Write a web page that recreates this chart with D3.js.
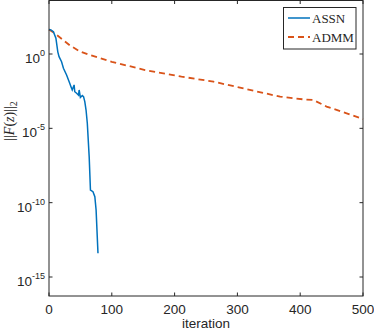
<!DOCTYPE html>
<html>
<head>
<meta charset="utf-8">
<script src="https://cdn.jsdelivr.net/npm/d3@7"></script>
<style>
  body { margin: 0; background: #fff; }
  svg { display: block; }
  text { fill: #262626; }
</style>
</head>
<body>
<div id="chart"></div>
<script>
// ASSN residuals
var assnIter = [0, 3, 7, 11, 14, 16, 20, 23, 28, 33, 35, 37, 40, 41, 44, 47, 48, 50, 53, 55, 57, 59, 61, 64, 66, 68, 70, 73, 75, 78];
var assnRes = [45, 42, 32, 11.5, 1.4, 0.66, 0.3, 0.11, 0.039, 0.0107, 0.0063, 0.0038, 0.0083, 0.0029, 0.0023, 0.0017, 0.0038, 0.0012, 0.0016, 0.00135, 6.2e-4, 1.7e-4, 2.2e-5, 1.2e-7, 7e-10, 6.3e-10, 5.5e-10, 2.5e-10, 3.2e-11, 4e-14];

// ADMM residuals
var admmIter = [0, 10, 33, 49, 65, 100, 153, 211, 262, 315, 368, 405, 421, 442, 474, 500];
var admmRes = [45, 23, 3.9, 1.5, 0.85, 0.3, 0.083, 0.03, 0.0138, 0.0043, 0.00135, 8.9e-4, 8.1e-4, 2.9e-4, 1.02e-4, 4.2e-5];

var xTicks = [0, 100, 200, 300, 400, 500];
var yTickExp = [0, -5, -10, -15];
var seriesNames = ["ASSN", "ADMM"];
var seriesColors = ["#0072BD", "#D95319"];

var width = 374, height = 332;
var mLeft = 49, mRight = 363, mTop = 0.5, mBottom = 296;

var svg = d3.select("#chart").append("svg")
            .attr("width", width)
            .attr("height", height);

var x = d3.scaleLinear()
          .domain([0, 500])
          .range([mLeft, mRight]);

var y = d3.scaleLog()
          .domain([Math.pow(10, -16.278), Math.pow(10, 3.599)])
          .range([mBottom, mTop]);

var line = d3.line()
             .x(function(d){ return x(d[0]); })
             .y(function(d){ return y(d[1]); });

var assn = assnIter.map(function(t, i){ return [t, assnRes[i]]; });
var admm = admmIter.map(function(t, i){ return [t, admmRes[i]]; });

svg.append("path")
   .attr("d", line(admm))
   .attr("fill", "none")
   .attr("stroke", seriesColors[1])
   .attr("stroke-width", 1.8)
   .attr("stroke-dasharray", "6,4");

svg.append("path")
   .attr("d", line(assn))
   .attr("fill", "none")
   .attr("stroke", seriesColors[0])
   .attr("stroke-width", 1.5);

// box
svg.append("rect")
   .attr("x", mLeft).attr("y", mTop)
   .attr("width", mRight - mLeft).attr("height", mBottom - mTop)
   .attr("fill", "none")
   .attr("stroke", "#262626")
   .attr("stroke-width", 1);

// x ticks (inside, bottom and top)
xTicks.forEach(function(t){
  var px = x(t);
  svg.append("line").attr("x1", px).attr("x2", px).attr("y1", mBottom).attr("y2", mBottom - 3.5)
     .attr("stroke", "#262626");
  svg.append("line").attr("x1", px).attr("x2", px).attr("y1", mTop).attr("y2", mTop + 3.5)
     .attr("stroke", "#262626");
  svg.append("text")
     .attr("x", px).attr("y", 314)
     .attr("text-anchor", "middle")
     .style("font-family", "Liberation Sans, Arial, sans-serif")
     .style("font-size", "13.5px")
     .text(t);
});

// y ticks
yTickExp.forEach(function(e){
  var py = y(Math.pow(10, e));
  svg.append("line").attr("x1", mLeft).attr("x2", mLeft + 3.5).attr("y1", py).attr("y2", py)
     .attr("stroke", "#262626");
  svg.append("line").attr("x1", mRight).attr("x2", mRight - 3.5).attr("y1", py).attr("y2", py)
     .attr("stroke", "#262626");
  var t = svg.append("text")
     .attr("x", 45).attr("y", py + 9)
     .attr("text-anchor", "end")
     .style("font-family", "Liberation Sans, Arial, sans-serif")
     .style("font-size", "13.5px");
  t.append("tspan").text("10");
  t.append("tspan").attr("dy", -7).style("font-size", "9px").text(e);
});

// axis labels
svg.append("text")
   .attr("x", (mLeft + mRight) / 2).attr("y", 328)
   .attr("text-anchor", "middle")
   .style("font-family", "Liberation Sans, Arial, sans-serif")
   .style("font-size", "13.5px")
   .text("iteration");

var yl = svg.append("text")
   .attr("transform", "translate(14," + 121 + ") rotate(-90)")
   .attr("text-anchor", "middle")
   .style("font-family", "Liberation Serif, serif")
   .style("font-size", "14px");
yl.append("tspan").text("||");
yl.append("tspan").style("font-style", "italic").text("F");
yl.append("tspan").text("(");
yl.append("tspan").style("font-style", "italic").text("z");
yl.append("tspan").text(")||");
yl.append("tspan").attr("dy", 3).style("font-size", "10px").text("2");

// legend
var lg = svg.append("g");
lg.append("rect")
  .attr("x", 283.5).attr("y", 7.5).attr("width", 72.5).attr("height", 41.5)
  .attr("fill", "#fff").attr("stroke", "#262626").attr("stroke-width", 1);
seriesNames.forEach(function(n, i){
  var ly = 18 + i * 19;
  lg.append("line")
    .attr("x1", 288).attr("x2", 310).attr("y1", ly).attr("y2", ly)
    .attr("stroke", seriesColors[i])
    .attr("stroke-width", i ? 1.8 : 1.5)
    .attr("stroke-dasharray", i ? "6,4" : null);
  lg.append("text")
    .attr("x", 312).attr("y", ly + 4.5)
    .style("font-family", "Liberation Serif, serif")
    .style("font-size", "13px")
    .text(n);
});
</script>
</body>
</html>
